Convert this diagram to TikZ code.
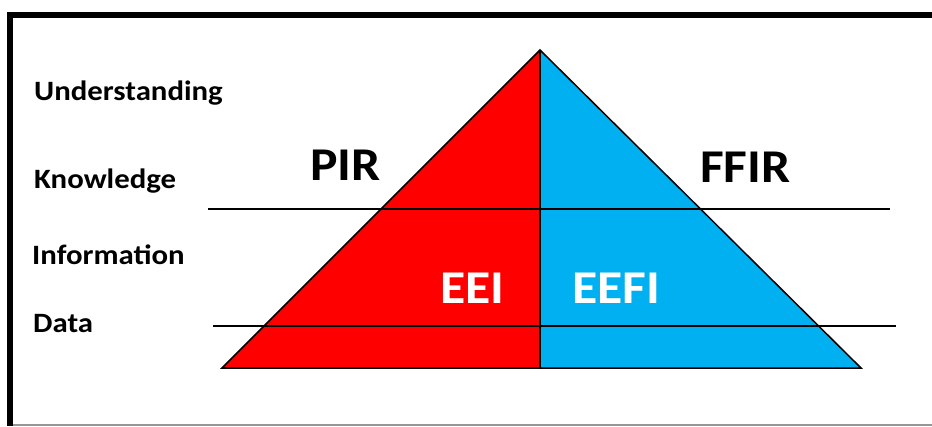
\documentclass[tikz,border=0pt]{standalone}
\usepackage{fontspec}
\setmainfont{Carlito}[FakeStretch=1.1]
\usetikzlibrary{positioning}
\definecolor{ink}{RGB}{0,0,0}
\definecolor{pirred}{RGB}{255,0,0}
\definecolor{ffirblue}{RGB}{0,176,240}
\definecolor{edgegray}{RGB}{150,150,150}
\tikzset{
    line join=miter,
    level/.style={
        font=\bfseries\fontsize{28}{32}\selectfont,
        text=ink,
        anchor=base west,
        inner sep=0pt
    },
    region/.style={
        font=\bfseries\fontsize{47}{52}\selectfont,
        text=ink,
        anchor=base west,
        inner sep=0pt
    },
    regionlight/.style={
        region,
        text=white
    },
    divider/.style={
        draw=ink,
        line width=1.5pt
    },
    sideline/.style={
        draw=ink,
        line width=1.5pt
    },
    frameline/.style={
        draw=ink,
        line width=6pt
    }
}

\begin{document}
\begin{tikzpicture}[x=1pt, y=-1pt]

    \useasboundingbox (0,0) rectangle (932,426);

    % Frame
    \coordinate (fb) at (10,426);
    \coordinate (fc) at (10,15);
    \coordinate (fr) at (932,15);
    \draw[frameline] (fb) -- (fc) -- (fr);
    \coordinate (bl) at (13,425);
    \coordinate (br) at (932,425);
    \draw[edgegray, line width=2pt] (bl) -- (br);

    % Pyramid
    \coordinate (apex) at (540,50);
    \coordinate (baseL) at (222,368);
    \coordinate (baseM) at (540,368);
    \coordinate (baseR) at (861,368);

    \fill[pirred] (apex) -- (baseL) -- (baseM) -- cycle;
    \fill[ffirblue] (apex) -- (baseR) -- (baseM) -- cycle;
    \draw[sideline] (apex) -- (baseL) -- (baseR) -- cycle;
    \draw[sideline] (apex) -- (baseM);

    % Level dividers
    \coordinate (upL) at (208,209);
    \coordinate (upR) at (890,209);
    \coordinate (loL) at (213,326);
    \coordinate (loR) at (896,326);
    \draw[divider] (upL) -- (upR);
    \draw[divider] (loL) -- (loR);

    % Levels
    \node[level] (understanding) at (34,100) {Understanding};
    \node[level] (knowledge) at (34,188) {Knowledge};
    \node[level] (information) at (32,264) {Information};
    \node[level] (data) at (33,332) {Data};

    % Requirements
    \node[region] (pir) at (310,180) {PIR};
    \node[region] (ffir) at (700,182) {FFIR};
    \node[regionlight] (eei) at (440,303) {EEI};
    \node[regionlight] (eefi) at (572,303) {EEFI};

\end{tikzpicture}
\end{document}
